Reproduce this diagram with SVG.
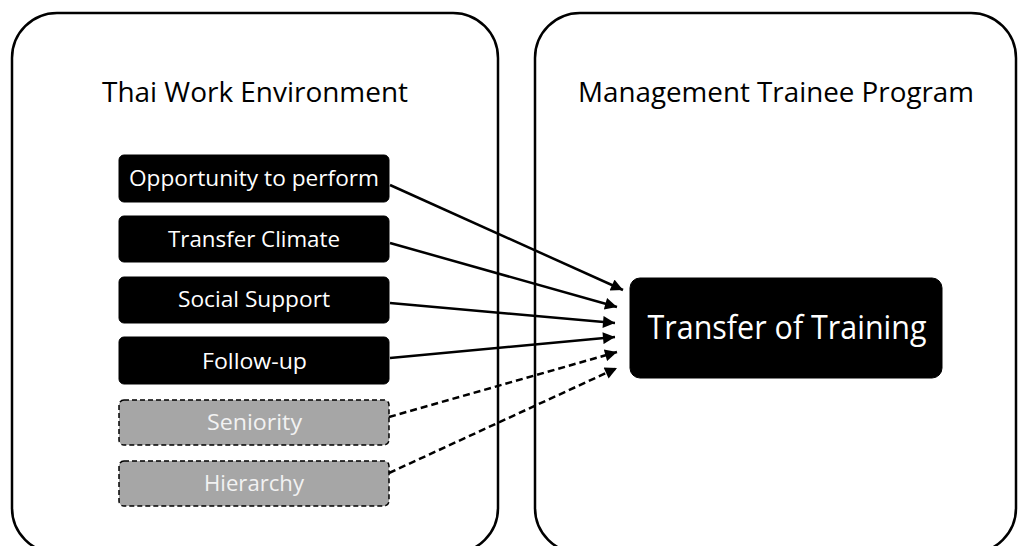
<svg xmlns="http://www.w3.org/2000/svg" width="1018" height="546" viewBox="0 0 1018 546">
<style>
.container{fill:#fff;stroke:#000;stroke-width:2.5}
.title{font-family:"Open Sans","Noto Sans",sans-serif;font-size:28px;fill:#000;text-anchor:middle}
.box{fill:#000;stroke:#000;stroke-width:1}
.gbox{fill:#a6a6a6;stroke:#000;stroke-width:1.5;stroke-dasharray:5,3}
.lbl{font-family:"Open Sans","Noto Sans",sans-serif;font-size:22px;fill:#fff;text-anchor:middle}
.glbl{font-family:"Open Sans","Noto Sans",sans-serif;font-size:22px;fill:#f2f2f2;text-anchor:middle}
.big{font-family:"Open Sans","Noto Sans",sans-serif;font-size:33px;fill:#fff;text-anchor:middle}
.conn{stroke:#000;stroke-width:2.5;fill:none;marker-end:url(#ah)}
.dash{stroke-dasharray:7,4}
</style>
<defs>
<marker id="ah" viewBox="0 0 10 10" refX="10" refY="5" markerWidth="5.5" markerHeight="4.8" orient="auto" markerUnits="strokeWidth">
<path d="M0,0 L10,5 L0,10 Z" fill="#000"/>
</marker>
</defs>
<g id="thai-work-environment">
<rect class="container" x="12" y="13" width="486" height="540" rx="45"/>
<text class="title" x="255" y="102" textLength="306" lengthAdjust="spacingAndGlyphs">Thai Work Environment</text>
</g>
<g id="management-trainee-program">
<rect class="container" x="535" y="13" width="481" height="540" rx="45"/>
<text class="title" x="776" y="102" textLength="396" lengthAdjust="spacingAndGlyphs">Management Trainee Program</text>
</g>
<g id="opportunity">
<rect class="box" x="119" y="155" width="270" height="47" rx="5"/>
<text class="lbl" x="254" y="185.5" textLength="250" lengthAdjust="spacingAndGlyphs">Opportunity to perform</text>
</g>
<g id="transfer-climate">
<rect class="box" x="119" y="216" width="270" height="46" rx="5"/>
<text class="lbl" x="254" y="246.5" textLength="172" lengthAdjust="spacingAndGlyphs">Transfer Climate</text>
</g>
<g id="social-support">
<rect class="box" x="119" y="277" width="270" height="46" rx="5"/>
<text class="lbl" x="254" y="307" textLength="152" lengthAdjust="spacingAndGlyphs">Social Support</text>
</g>
<g id="follow-up">
<rect class="box" x="119" y="337" width="270" height="47" rx="5"/>
<text class="lbl" x="254.5" y="369" textLength="105" lengthAdjust="spacingAndGlyphs">Follow-up</text>
</g>
<g id="seniority">
<rect class="gbox" x="119" y="400" width="270" height="45" rx="5"/>
<text class="glbl" x="254.5" y="430" textLength="95" lengthAdjust="spacingAndGlyphs">Seniority</text>
</g>
<g id="hierarchy">
<rect class="gbox" x="119" y="461" width="270" height="45" rx="5"/>
<text class="glbl" x="254" y="491" textLength="100" lengthAdjust="spacingAndGlyphs">Hierarchy</text>
</g>
<g id="transfer-of-training">
<rect class="box" x="630" y="278" width="312" height="100" rx="10"/>
<text class="big" x="787" y="339" textLength="279" lengthAdjust="spacingAndGlyphs">Transfer of Training</text>
</g>
<g id="connectors">
<line class="conn" x1="390" y1="185" x2="623" y2="290"/>
<line class="conn" x1="390" y1="243" x2="617" y2="307"/>
<line class="conn" x1="390" y1="303" x2="615" y2="323"/>
<line class="conn" x1="390" y1="358" x2="615" y2="337"/>
<line class="conn dash" x1="389" y1="417" x2="617" y2="352"/>
<line class="conn dash" x1="389" y1="473" x2="617" y2="368"/>
</g>
</svg>
